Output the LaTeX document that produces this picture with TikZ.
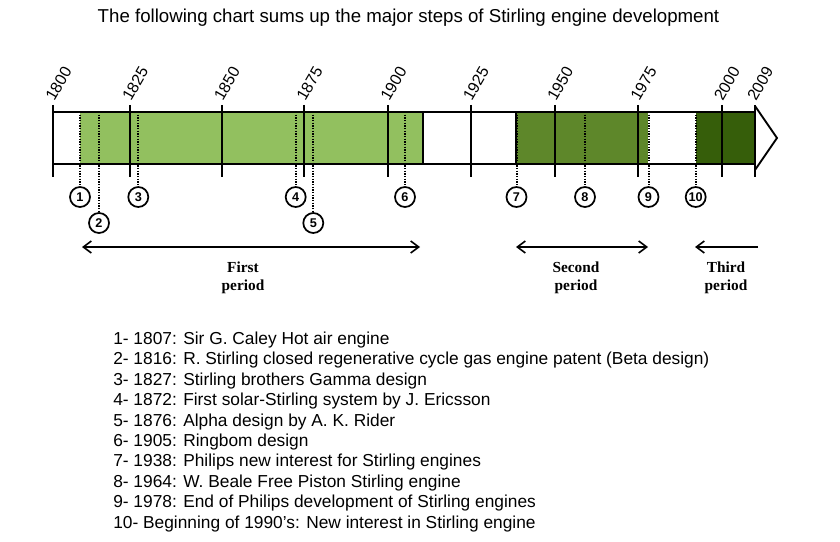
\documentclass[tikz,border=0pt]{standalone}
\usepackage{fontspec}
\setmainfont{Liberation Sans}
\newfontfamily\periodfont{Liberation Serif}
\usetikzlibrary{arrows.meta}
\definecolor{greenA}{RGB}{146,192,95}
\definecolor{greenB}{RGB}{94,135,42}
\definecolor{greenC}{RGB}{54,94,10}
\tikzset{
  bar/.style={line width=1.6pt},
  event/.style={circle,draw,line width=1.3pt,inner sep=0pt,minimum size=15pt,
    font=\bfseries\fontsize{9.5}{9.5}\selectfont},
  eventline/.style={line width=1.5pt,dash pattern=on 1pt off 1pt},
  yearlbl/.style={rotate=60,anchor=base west,inner sep=0pt,font=\fontsize{12}{12}\selectfont},
  periodarrow/.style={line width=1.2pt,arrows={Straight Barb[length=6pt,width=9pt]-Straight Barb[length=6pt,width=9pt]}},
  periodlbl/.style={align=center,font=\periodfont\bfseries\fontsize{11.5}{13.5}\selectfont},
}

\begin{document}
\begin{tikzpicture}[x=0.75pt,y=-0.75pt]
    \useasboundingbox (0,0) rectangle (840,542);
    \node (title) at (408.5,18) {\fontsize{14}{16}\selectfont The following chart sums up the major steps of Stirling engine development};
    % the three periods
    \fill[greenA] (80,112) rectangle (423,164);
    \fill[greenB] (516,112) rectangle (648,164);
    \fill[greenC] (696,112) rectangle (755,164);
    \draw[bar] (53.3,112)--(755,112) (53.3,164)--(755,164);
    \draw[bar] (423,112)--(423,164) (516,112)--(516,164);
    \draw[line width=1.4pt] (755,106)--(777,138)--(755,170);
    % years
    \foreach \yr/\x in {1800/53.3,1825/130,1850/221.7,1875/304.3,1900/388.3,1925/470.7,1950/555,1975/638.3,2000/721.7,2009/755}{
      \draw[bar] (\x,105)--(\x,177);
      \node[yearlbl] (y\yr) at (\x+1,102) {\yr};
    }
    % events
    \foreach \n/\x/\yy in {1/80/197,2/99/223,3/138.3/197,4/295.7/197,5/313.3/223,6/405/197,7/516.5/197,8/585/197,9/648.5/197,10/695.7/197}{
      \coordinate (t\n) at (\x,112);
      \node[event] (e\n) at (\x,\yy) {\n};
      \draw[eventline] (t\n)--(e\n);
    }
    % period arrows
    \coordinate (p1a) at (82,247);
    \coordinate (p1b) at (420,247);
    \coordinate (p2a) at (516,247);
    \coordinate (p2b) at (648,247);
    \coordinate (p3a) at (695,247);
    \coordinate (p3b) at (758,247);
    \draw[periodarrow] (p1a)--(p1b);
    \draw[periodarrow] (p2a)--(p2b);
    \draw[periodarrow,-{Straight Barb[length=6pt,width=9pt]}] (p3b)--(p3a);
    \node[periodlbl] (first) at (243,278) {First\\period};
    \node[periodlbl] (second) at (576,278) {Second\\period};
    \node[periodlbl] (third) at (726,278) {Third\\period};
    % list of steps
    \foreach \txt [count=\i] in {1- 1807: Sir G. Caley Hot air engine,
      2- 1816: R. Stirling closed regenerative cycle gas engine patent (Beta design),
      3- 1827: Stirling brothers Gamma design,
      4- 1872: First solar-Stirling system by J. Ericsson,
      5- 1876: Alpha design by A. K. Rider,
      6- 1905: Ringbom design,
      7- 1938: Philips new interest for Stirling engines,
      8- 1964: W. Beale Free Piston Stirling engine,
      9- 1978: End of Philips development of Stirling engines,
      10- Beginning of 1990's: New interest in Stirling engine}{
      \node[anchor=west,inner sep=0pt,font=\fontsize{13}{15}\selectfont] (s\i) at (113,{340+20.4*(\i-1)}) {\txt};
    }
\end{tikzpicture}
\end{document}
